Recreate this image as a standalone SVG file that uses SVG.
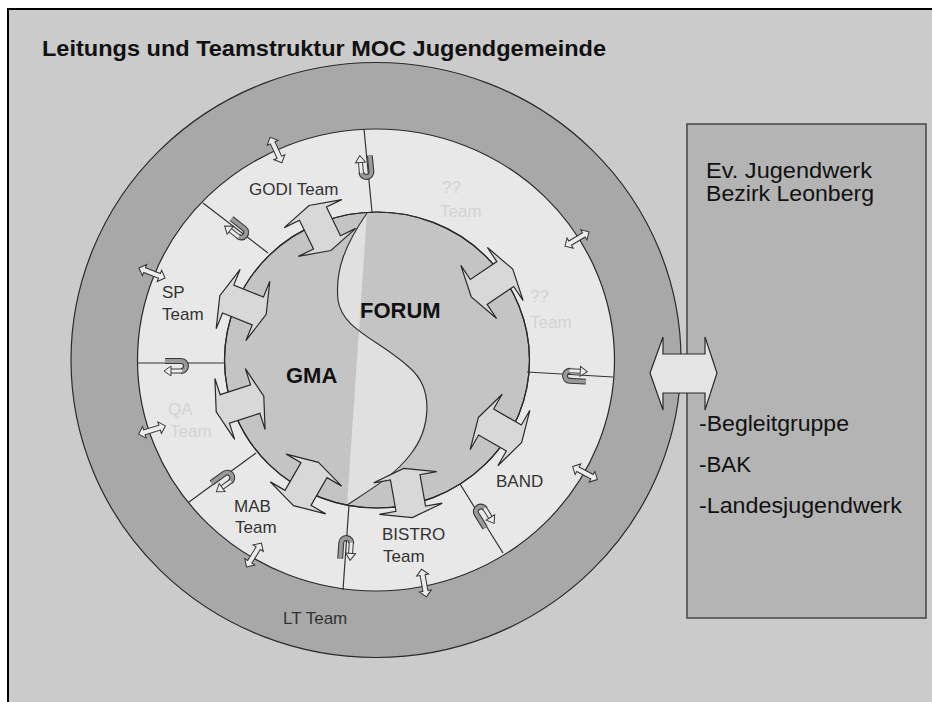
<svg xmlns="http://www.w3.org/2000/svg" xmlns:xlink="http://www.w3.org/1999/xlink" width="932" height="702" viewBox="0 0 932 702">
<style>
.lbl{font-family:"Liberation Sans",Arial,sans-serif;font-size:17px;fill:#333}
.faint{fill:#d3d3d3}
.bold{font-weight:bold;fill:#111;font-size:22px}
.box{font-family:"Liberation Sans",Arial,sans-serif;font-size:22px;fill:#111}
.edge{stroke:#2a2a2a;stroke-width:1.2}
.div{stroke:#333;stroke-width:1.2;fill:none}
.big{fill:#d8d8d8;stroke:#2a2a2a;stroke-width:1.2}
.small{fill:#ececec;stroke:#333;stroke-width:1}
</style>
<defs>
<polygon id="ringArrow" points="-25,0 -16,-32 -16,-15 16,-15 16,-32 25,0 16,32 16,15 -16,15 -16,32"/>
<polygon id="smallArrow" points="-14,0 -8,-6 -8,-2.5 8,-2.5 8,-6 14,0 8,6 8,2.5 -8,2.5 -8,6"/>
<g id="uturn">
<path d="M5,-12 L5,4 A5,5 0 0 1 -5,4" fill="none" stroke="#3a3a3a" stroke-width="6"/>
<path d="M5,-12 L5,4 A5,5 0 0 1 -5,4" fill="none" stroke="#9a9a9a" stroke-width="3.8"/>
<path d="M-5,5 L-5,-6" fill="none" stroke="#3a3a3a" stroke-width="5"/>
<path d="M-5,5 L-5,-6" fill="none" stroke="#ececec" stroke-width="3"/>
<polygon points="-10,-6 -5,-13 0,-6" fill="#ececec" stroke="#3a3a3a" stroke-width="1"/>
</g>
</defs>

<rect width="932" height="702" fill="#ffffff"/>
<rect x="8" y="9" width="924" height="693" fill="#cbcbcb"/>
<path d="M8,702 V9 H932" fill="none" stroke="#000" stroke-width="2"/>

<text x="42" y="56" font-family="'Liberation Sans',Arial,sans-serif" font-size="22" font-weight="bold" fill="#111" textLength="564" lengthAdjust="spacingAndGlyphs">Leitungs und Teamstruktur MOC Jugendgemeinde</text>

<g id="lt-team">
<ellipse cx="376" cy="360" rx="305" ry="297.5" fill="#a8a8a8" class="edge"/>
<text class="lbl" x="283" y="624">LT Team</text>
</g>

<g id="team-ring">
<ellipse cx="376" cy="360" rx="238.5" ry="231" fill="#e8e8e8" class="edge"/>
</g>

<g id="core">
<ellipse cx="377" cy="360" rx="152.5" ry="148" fill="#c4c4c4" class="edge"/>
<path d="M367,213 C345,245 335,270 338,300 C342,330 380,340 410,368 C435,390 430,430 410,455 C395,475 370,490 347,505 L367,213 Z" fill="#e0e0e0"/>
<path d="M367,213 C345,245 335,270 338,300 C342,330 380,340 410,368 C435,390 430,430 410,455 C395,475 370,490 347,505" class="div"/>
<ellipse cx="377" cy="360" rx="152.5" ry="148" fill="none" class="edge"/>
</g>

<g id="dividers">
<line class="div" x1="364" y1="129" x2="372" y2="212"/>
<line class="div" x1="203" y1="203" x2="268" y2="253"/>
<line class="div" x1="137" y1="363" x2="225" y2="363"/>
<line class="div" x1="189" y1="502" x2="256" y2="453"/>
<line class="div" x1="349" y1="505" x2="343" y2="590"/>
<line class="div" x1="460" y1="484" x2="503" y2="553"/>
<line class="div" x1="527" y1="372" x2="613" y2="377"/>
</g>

<g id="connectors">
<use xlink:href="#ringArrow" class="big" transform="translate(320,228) rotate(-116)"/>
<use xlink:href="#ringArrow" class="big" transform="translate(243,305) rotate(-158)"/>
<use xlink:href="#ringArrow" class="big" transform="translate(492,283) rotate(-34)"/>
<use xlink:href="#ringArrow" class="big" transform="translate(240,404) rotate(162)"/>
<use xlink:href="#ringArrow" class="big" transform="translate(306,484) rotate(120)"/>
<use xlink:href="#ringArrow" class="big" transform="translate(408,493) rotate(80)"/>
<use xlink:href="#ringArrow" class="big" transform="translate(500,430) rotate(30)"/>

<use xlink:href="#smallArrow" class="small" transform="translate(276,150) rotate(-115)"/>
<use xlink:href="#smallArrow" class="small" transform="translate(152,273) rotate(-159)"/>
<use xlink:href="#smallArrow" class="small" transform="translate(152,430) rotate(163)"/>
<use xlink:href="#smallArrow" class="small" transform="translate(254,555) rotate(122)"/>
<use xlink:href="#smallArrow" class="small" transform="translate(424,583) rotate(80)"/>
<use xlink:href="#smallArrow" class="small" transform="translate(585,473) rotate(28)"/>
<use xlink:href="#smallArrow" class="small" transform="translate(577,239) rotate(-31)"/>

<use xlink:href="#uturn" transform="translate(366,168) rotate(-5.5)"/>
<use xlink:href="#uturn" transform="translate(238,230) rotate(-52)"/>
<use xlink:href="#uturn" transform="translate(177,366) rotate(270)"/>
<use xlink:href="#uturn" transform="translate(224,480) rotate(234)"/>
<use xlink:href="#uturn" transform="translate(346,547) rotate(184)"/>
<use xlink:href="#uturn" transform="translate(483,515) rotate(148)"/>
<use xlink:href="#uturn" transform="translate(574,376) rotate(93)"/>
</g>

<g id="labels">
<text class="lbl" x="249" y="195">GODI Team</text>
<text class="lbl faint" x="442" y="193">??</text>
<text class="lbl faint" x="440" y="217">Team</text>
<text class="lbl faint" x="530" y="302">??</text>
<text class="lbl faint" x="530" y="328">Team</text>
<text class="lbl" x="162" y="298">SP</text>
<text class="lbl" x="162" y="320">Team</text>
<text class="lbl faint" x="168" y="415">QA</text>
<text class="lbl faint" x="170" y="437">Team</text>
<text class="lbl" x="234" y="512">MAB</text>
<text class="lbl" x="235" y="533">Team</text>
<text class="lbl" x="382" y="540">BISTRO</text>
<text class="lbl" x="383" y="562">Team</text>
<text class="lbl" x="496" y="487">BAND</text>
<text class="lbl bold" x="286" y="383">GMA</text>
<text class="lbl bold" x="360" y="318">FORUM</text>
</g>

<g id="ejw">
<rect x="687" y="124" width="239" height="494" fill="#b4b4b4" stroke="#444" stroke-width="1.5"/>
<text class="box" x="706" y="178" textLength="166" lengthAdjust="spacingAndGlyphs">Ev. Jugendwerk</text>
<text class="box" x="706" y="201" textLength="168" lengthAdjust="spacingAndGlyphs">Bezirk Leonberg</text>
<text class="box" x="699" y="431" textLength="150" lengthAdjust="spacingAndGlyphs">-Begleitgruppe</text>
<text class="box" x="699" y="472" textLength="52" lengthAdjust="spacingAndGlyphs">-BAK</text>
<text class="box" x="699" y="513" textLength="203" lengthAdjust="spacingAndGlyphs">-Landesjugendwerk</text>
</g>

<g id="link-arrow">
<polygon points="650,373 663,337 663,354 705,354 705,337 717,373 705,410 705,393 663,393 663,410" fill="#e4e4e4" stroke="#2a2a2a" stroke-width="1.2"/>
</g>
</svg>
